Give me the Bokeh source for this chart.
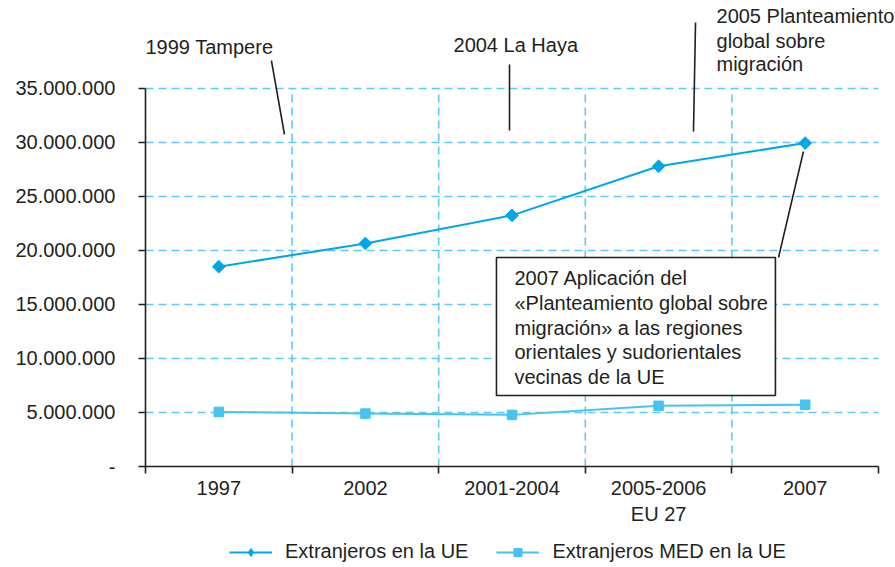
from bokeh.plotting import figure
from bokeh.layouts import column
from bokeh.models import (Range1d, FixedTicker, Legend, LegendItem, Label, ColumnDataSource)
from bokeh.embed import file_html
from bokeh.resources import INLINE
import numpy as np

# ---- data ----
categories = ["1997", "2002", "2001-2004", "2005-2006\nEU 27", "2007"]
extranjeros_ue = [18500000, 20650000, 23250000, 27800000, 29950000]
extranjeros_med = [5050000, 4900000, 4780000, 5620000, 5720000]
y_ticks = [0, 5000000, 10000000, 15000000, 20000000, 25000000, 30000000, 35000000]
y_tick_labels = ["-", "5.000.000", "10.000.000", "15.000.000", "20.000.000",
                 "25.000.000", "30.000.000", "35.000.000"]
series_names = ["Extranjeros en la UE", "Extranjeros MED en la UE"]

# ---- annotation layout (positions in data units) ----
FONT = "Liberation Sans"
TXT = "#231F20"
FS = "20px"
notes = [
    (0.0, 38.80e6, "1999 Tampere"),
    (2.101, 39.07e6, "2004 La Haya"),
    (3.895, 41.67e6, "2005 Planteamiento"),
    (3.895, 39.44e6, "global sobre"),
    (3.895, 37.25e6, "migración"),
]
note_lines = dict(x0=[0.859, 2.483, 3.752, 4.488], y0=[37.59e6, 37.22e6, 41.11e6, 29.17e6],
                  x1=[0.948, 2.483, 3.738, 4.318], y1=[30.74e6, 31.11e6, 31.02e6, 19.35e6])
box = dict(left=[2.394], right=[4.297], top=[19.35e6], bottom=[6.574e6])
box_text_x = 2.517
box_text = ["2007 Aplicación del", "«Planteamiento global sobre", "migración» a las regiones",
            "orientales y sudorientales", "vecinas de la UE"]
box_text_y = [17.45e6, 15.14e6, 12.87e6, 10.56e6, 8.33e6]

n = len(categories)
xpos = [i + 0.5 for i in range(n)]
boundaries = list(range(n + 1))

p = figure(width=895, height=530, x_range=Range1d(0, 5.116), y_range=Range1d(0, 43.148e6),
           output_backend="svg", toolbar_location=None,
           min_border_left=145, min_border_right=0, min_border_top=0, min_border_bottom=64)
p.outline_line_color = None
p.xgrid.grid_line_color = None
p.ygrid.grid_line_color = None

GRID = "#5EC9F2"
gy = [t for t in y_ticks if t > 0]
p.segment(x0=[0] * len(gy), x1=[n] * len(gy), y0=gy, y1=gy,
          line_color=GRID, line_width=1.6, line_dash="8 5")
gx = boundaries[1:-1]
p.segment(x0=gx, x1=gx, y0=[0] * len(gx), y1=[y_ticks[-1]] * len(gx),
          line_color=GRID, line_width=1.6, line_dash="8 5")

p.quad(source=ColumnDataSource(box), left="left", right="right", top="top", bottom="bottom",
       fill_color="white", line_color="#231F20", line_width=1.6)

C1 = "#00A7E7"
C2 = "#45C3F1"
l1 = p.line(xpos, extranjeros_ue, line_color=C1, line_width=2)
s1 = p.scatter(xpos, extranjeros_ue, marker="square", angle=np.pi / 4, size=9,
               fill_color=C1, line_color=C1)
l2 = p.line(xpos, extranjeros_med, line_color=C2, line_width=2)
s2 = p.scatter(xpos, extranjeros_med, marker="square", size=9.5,
               fill_color=C2, line_color=C2)

p.segment(source=ColumnDataSource(note_lines), x0="x0", y0="y0", x1="x1", y1="y1",
          line_color="#231F20", line_width=1.6)

for (x, y, t) in notes:
    p.add_layout(Label(x=x, y=y, text=t, text_font=FONT, text_font_size=FS,
                       text_color=TXT, text_baseline="middle", text_align="left"))
for t, y in zip(box_text, box_text_y):
    p.add_layout(Label(x=box_text_x, y=y, text=t, text_font=FONT, text_font_size=FS,
                       text_color=TXT, text_baseline="middle", text_align="left"))

xa = p.xaxis[0]
xa.ticker = FixedTicker(ticks=xpos, minor_ticks=boundaries)
xa.major_label_overrides = {x: c for x, c in zip(xpos, categories)}
xa.bounds = (0, n)
xa.major_tick_out = 0
xa.major_tick_in = 0
xa.minor_tick_out = 7
xa.minor_tick_in = 0
xa.minor_tick_line_color = "#231F20"
xa.minor_tick_line_width = 1.6
xa.axis_line_color = "#231F20"
xa.axis_line_width = 1.6
xa.major_label_text_font = FONT
xa.major_label_text_font_size = FS
xa.major_label_text_color = TXT
xa.major_label_standoff = 3

ya = p.yaxis[0]
ya.ticker = FixedTicker(ticks=y_ticks, minor_ticks=[])
ya.major_label_overrides = {t: l for t, l in zip(y_ticks, y_tick_labels)}
ya.bounds = (0, y_ticks[-1])
ya.major_tick_out = 7
ya.major_tick_in = 0
ya.major_tick_line_color = "#231F20"
ya.major_tick_line_width = 1.6
ya.axis_line_color = "#231F20"
ya.axis_line_width = 1.6
ya.major_label_text_font = FONT
ya.major_label_text_font_size = FS
ya.major_label_text_color = TXT
ya.major_label_standoff = 23

# ---- legend strip below the chart (series drawn out of view, only their legend shows) ----
q = figure(width=895, height=37, x_range=Range1d(0, 1), y_range=Range1d(-2, -1),
           output_backend="svg", toolbar_location=None,
           x_axis_location=None, y_axis_location=None,
           min_border_left=145, min_border_right=0, min_border_top=0, min_border_bottom=0)
q.outline_line_color = None
q.xgrid.grid_line_color = None
q.ygrid.grid_line_color = None
ql1 = q.line(xpos, extranjeros_ue, line_color=C1, line_width=2)
qs1 = q.scatter(xpos, extranjeros_ue, marker="diamond", size=14,
                fill_color=C1, line_color=C1)
ql2 = q.line(xpos, extranjeros_med, line_color=C2, line_width=2)
qs2 = q.scatter(xpos, extranjeros_med, marker="square", size=9.5, fill_color=C2, line_color=C2)
legend = Legend(items=[LegendItem(label=series_names[0], renderers=[ql1, qs1]),
                       LegendItem(label=series_names[1], renderers=[ql2, qs2])],
                orientation="horizontal", location=(84, 4),
                glyph_width=43, glyph_height=20, label_standoff=13, spacing=28,
                label_text_font=FONT, label_text_font_size=FS, label_text_color=TXT,
                border_line_color=None, background_fill_color=None, padding=0, margin=0)
q.add_layout(legend)

open("out.html", "w").write(file_html(column(p, q), INLINE))
